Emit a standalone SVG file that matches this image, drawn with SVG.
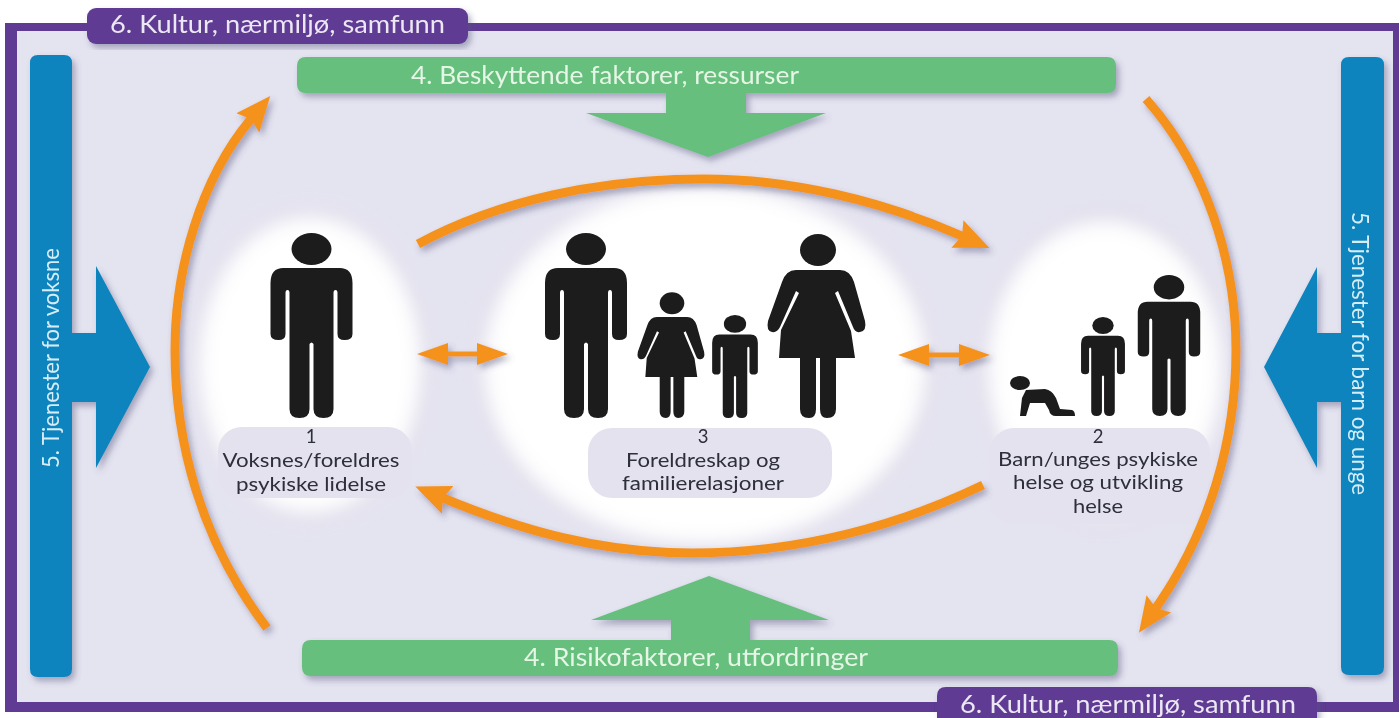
<svg xmlns="http://www.w3.org/2000/svg" xmlns:xlink="http://www.w3.org/1999/xlink" width="1400" height="718" viewBox="0 0 1400 718">
<style>
text{font-family:"Lato","Open Sans","Noto Sans",sans-serif}
.purple{fill:#5f3b93}
.blue{fill:#0a84bd}
.green{fill:#66bf7d}
.fig{fill:#1b1a1b}
.lbl{fill:#e3e2ee}
.t{fill:#2e2e3c;font-size:18.500px;text-anchor:middle}
.w{font-size:25px}
.tp{fill:#ece8f3}
.tg{fill:#e6f6e6}
.tb{fill:#d6ecf6;font-size:23px}
.arc{fill:none;stroke:#f5921e;stroke-width:9;stroke-linecap:butt}
.dbl{fill:none;stroke:#f5921e;stroke-width:5}
.sh{filter:url(#shadow)}
</style>
<defs>
<filter id="photo" x="0" y="0" width="100%" height="100%"><feGaussianBlur stdDeviation=".55"/></filter>
<filter id="shadow" x="-10%" y="-10%" width="120%" height="125%"><feDropShadow dx="3" dy="4" stdDeviation="3" flood-color="#55557a" flood-opacity=".45"/></filter>
<filter id="soft" x="-20%" y="-20%" width="140%" height="140%"><feGaussianBlur stdDeviation="11"/></filter>
<filter id="halo" x="-20%" y="-20%" width="140%" height="140%"><feGaussianBlur stdDeviation="8"/></filter>
<marker id="head" markerUnits="userSpaceOnUse" markerWidth="36" markerHeight="32" viewBox="0 0 36 32" refX="5" refY="16" orient="auto"><path d="M0 1L35 16L0 31L5 16Z" fill="#f5921e"/></marker>
<marker id="tip" markerUnits="userSpaceOnUse" markerWidth="32" markerHeight="24" viewBox="0 0 32 24" refX="0" refY="12" orient="auto-start-reverse"><path d="M0 1L31 12L0 23Z" fill="#f5921e"/></marker>
<g id="man"><ellipse cx="0" cy="16" rx="20" ry="16"/><path d="M-28 35H28Q41 35 41 50V101Q41 107 33 107Q26 107 26 101V60Q26 57 24 57Q22 57 22 60V176Q22 185 12 185Q2 185 2 176V111Q0 108-2 111V176Q-2 185-12 185Q-22 185-22 176V60Q-22 57-24 57Q-26 57-26 60V101Q-26 107-33 107Q-41 107-41 101V50Q-41 35-28 35Z"/></g>
<g id="woman"><ellipse cx="0" cy="15" rx="18" ry="16"/><path d="M-22 35H22Q32 35 36 47L47 86Q49 96 42 97Q37 98 35 92L20 56L17 58L33 96L37 123H18V174Q18 183 9 183Q2 183 2 174V123H-2V174Q-2 183-9 183Q-18 183-18 174V123H-39L-37 95L-19 58L-22 56L-38 92Q-41 98-46 97Q-52 96-50 86L-36 47Q-32 35-22 35Z"/></g>
</defs>
<g id="picture" filter="url(#photo)">
<rect width="1400" height="718" fill="#fff"/>
<g id="frame">
<rect class="purple" x="5" y="23" width="1394" height="689"/>
<rect x="17" y="31" width="1376" height="671" fill="#e4e3f0"/>
</g>
<g id="node-1">
<ellipse cx="310" cy="365" rx="122" ry="158" fill="#d6d3e4" filter="url(#halo)"/>
<ellipse cx="310" cy="365" rx="115" ry="152" fill="#fff" filter="url(#soft)"/>
<use xlink:href="#man" href="#man" class="fig" transform="translate(311.500,233)"/>
<rect class="lbl" x="218" y="427" width="194" height="71" rx="24"/>
<text class="t" x="311" y="443">1</text>
<text class="t" x="311" y="467" textLength="177" lengthAdjust="spacingAndGlyphs">Voksnes/foreldres</text>
<text class="t" x="311" y="491" textLength="150" lengthAdjust="spacingAndGlyphs">psykiske lidelse</text>
</g>
<g id="node-3">
<ellipse cx="705" cy="365" rx="232" ry="190" fill="#d6d3e4" filter="url(#halo)"/>
<ellipse cx="705" cy="365" rx="225" ry="183" fill="#fff" filter="url(#soft)"/>
<use xlink:href="#man" href="#man" class="fig" transform="translate(586,233)"/>
<use xlink:href="#woman" href="#woman" class="fig" transform="translate(672,293) scale(.683)"/>
<use xlink:href="#man" href="#man" class="fig" transform="translate(735,315) scale(.557)"/>
<use xlink:href="#woman" href="#woman" class="fig" transform="translate(818,235)"/>
<rect class="lbl" x="588" y="428" width="244" height="70" rx="24"/>
<text class="t" x="703" y="443">3</text>
<text class="t" x="703" y="467" textLength="154" lengthAdjust="spacingAndGlyphs">Foreldreskap og</text>
<text class="t" x="703" y="490" textLength="162" lengthAdjust="spacingAndGlyphs">familierelasjoner</text>
</g>
<g id="node-2">
<ellipse cx="1105" cy="369" rx="128" ry="160" fill="#d6d3e4" filter="url(#halo)"/>
<ellipse cx="1105" cy="369" rx="121" ry="152" fill="#fff" filter="url(#soft)"/>
<path class="fig" d="M1026 390L1045 389Q1052 390 1056 398L1060 409L1072 410Q1075 411 1075 416L1056 416Q1050 416 1049 410L1045 403L1030 403L1026 416L1020 416L1022 398Z"/>
<ellipse class="fig" cx="1020" cy="383" rx="10" ry="7"/>
<use xlink:href="#man" href="#man" class="fig" transform="translate(1103,317) scale(.535)"/>
<use xlink:href="#man" href="#man" class="fig" transform="translate(1169,275) scale(.762)"/>
<rect class="lbl" x="990" y="428" width="220" height="96" rx="24"/>
<text class="t" x="1098" y="443">2</text>
<text class="t" x="1098" y="466" textLength="200" lengthAdjust="spacingAndGlyphs">Barn/unges psykiske</text>
<text class="t" x="1098" y="489" textLength="170" lengthAdjust="spacingAndGlyphs">helse og utvikling</text>
<text class="t" x="1098" y="513" textLength="50" lengthAdjust="spacingAndGlyphs">helse</text>
</g>
<g id="banner-top" class="sh">
<rect class="purple" x="87" y="8" width="381" height="36" rx="9"/>
<text class="tp w" x="110" y="33" textLength="335" lengthAdjust="spacingAndGlyphs">6. Kultur, nærmiljø, samfunn</text>
</g>
<g id="banner-bottom" class="sh">
<path class="purple" d="M937 718V696Q937 687 946 687H1308Q1317 687 1317 696V718Z"/>
<text class="tp w" x="960" y="713" textLength="336" lengthAdjust="spacingAndGlyphs">6. Kultur, nærmiljø, samfunn</text>
</g>
<g id="protective" class="sh">
<path class="green" d="M306 57H1107Q1116 57 1116 66V84Q1116 93 1107 93H746V113H826L708 157L586 113H666V93H306Q297 93 297 84V66Q297 57 306 57Z"/>
<text class="tg w" x="411" y="84" textLength="388" lengthAdjust="spacingAndGlyphs">4. Beskyttende faktorer, ressurser</text>
</g>
<g id="risk" class="sh">
<path class="green" d="M311 640H671V620H591L709 576L829 620H750V640H1109Q1118 640 1118 649V667Q1118 676 1109 676H311Q302 676 302 667V649Q302 640 311 640Z"/>
<text class="tg w" x="524" y="666" textLength="344" lengthAdjust="spacingAndGlyphs">4. Risikofaktorer, utfordringer</text>
</g>
<g id="services-adults" class="sh">
<path class="blue" d="M38 55H64Q72 55 72 63V333H96V266L150 367L96 468V402H72V669Q72 677 64 677H38Q30 677 30 669V63Q30 55 38 55Z"/>
<text class="tb" transform="translate(59,468) rotate(-90)" textLength="220" lengthAdjust="spacingAndGlyphs">5. Tjenester for voksne</text>
</g>
<g id="services-children" class="sh">
<path class="blue" d="M1349 57H1376Q1384 57 1384 65V667Q1384 675 1376 675H1349Q1341 675 1341 667V402H1317V468L1264 367L1317 267V333H1341V65Q1341 57 1349 57Z"/>
<text class="tb" transform="translate(1352,212) rotate(90)" textLength="283" lengthAdjust="spacingAndGlyphs">5. Tjenester for barn og unge</text>
</g>
<g id="connectors" class="sh">
<path class="arc" marker-end="url(#head)" d="M418 244C500 200 600 179 704 179C790 179 880 200 962 236"/>
<path class="arc" marker-end="url(#head)" d="M983 485C900 525 800 553 692 553C600 553 520 530 443 498"/>
<path class="arc" marker-end="url(#head)" d="M267 628C200 540 175 440 175 350C175 270 200 180 251 119"/>
<path class="arc" marker-end="url(#head)" d="M1146 99C1205 165 1236 260 1236 350C1236 440 1210 530 1156 608"/>
<path class="dbl" marker-start="url(#tip)" marker-end="url(#tip)" d="M448 354H477"/>
<path class="dbl" marker-start="url(#tip)" marker-end="url(#tip)" d="M929 355H959"/>
</g>
</g>
</svg>
